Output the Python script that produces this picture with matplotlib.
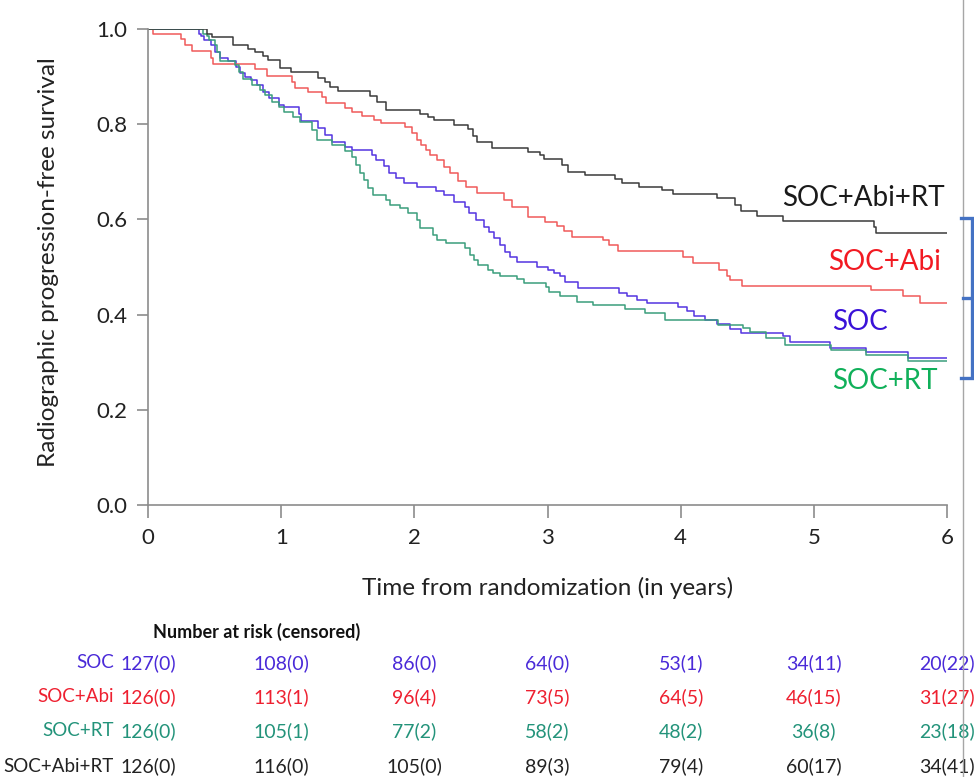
import matplotlib
matplotlib.use('Agg')
import matplotlib.pyplot as plt
from matplotlib.lines import Line2D
from matplotlib.transforms import blended_transform_factory

plt.rcParams['font.family'] = ['Lato', 'DejaVu Sans']

#### curve data (step changes)

soc_t = [0, 0.38, 0.40, 0.42, 0.47, 0.50, 0.54, 0.60, 0.66, 0.69, 0.73, 0.77, 0.82, 0.86, 0.91, 0.98,
         1.02, 1.13, 1.15, 1.28, 1.33, 1.38, 1.48, 1.53, 1.68, 1.71, 1.77, 1.81, 1.86, 1.92, 2.02,
         2.16, 2.22, 2.30, 2.38, 2.41, 2.46, 2.52, 2.56, 2.60, 2.64, 2.68, 2.72, 2.77, 2.92, 3.00,
         3.05, 3.09, 3.13, 3.23, 3.54, 3.60, 3.67, 3.75, 3.98, 4.05, 4.10, 4.18, 4.27, 4.37, 4.45,
         4.77, 4.82, 5.12, 5.39, 5.71, 6.0]
soc_s = [1.0, 0.99, 0.985, 0.977, 0.966, 0.952, 0.938, 0.933, 0.921, 0.907, 0.900, 0.893, 0.882, 0.868, 0.854, 0.840,
         0.837, 0.822, 0.807, 0.791, 0.777, 0.763, 0.753, 0.746, 0.735, 0.725, 0.712, 0.698, 0.686, 0.676, 0.669,
         0.660, 0.651, 0.637, 0.627, 0.613, 0.599, 0.585, 0.574, 0.560, 0.546, 0.532, 0.521, 0.511, 0.501, 0.494,
         0.487, 0.480, 0.469, 0.456, 0.446, 0.438, 0.431, 0.424, 0.415, 0.407, 0.398, 0.389, 0.380, 0.370, 0.362,
         0.354, 0.343, 0.329, 0.322, 0.309, 0.309]

abi_t = [0, 0.04, 0.25, 0.28, 0.33, 0.47, 0.49, 0.80, 0.89, 1.08, 1.10, 1.20, 1.31, 1.34, 1.48, 1.53,
         1.61, 1.70, 1.75, 1.93, 1.98, 2.02, 2.05, 2.09, 2.12, 2.17, 2.22, 2.27, 2.33, 2.39, 2.47,
         2.67, 2.73, 2.85, 2.98, 3.07, 3.12, 3.18, 3.42, 3.46, 3.53, 4.02, 4.09, 4.29, 4.35, 4.37,
         4.46, 5.43, 5.67, 5.80, 6.0]
abi_s = [1.0, 0.99, 0.980, 0.966, 0.954, 0.940, 0.926, 0.915, 0.901, 0.888, 0.875, 0.868, 0.858, 0.845, 0.835, 0.826,
         0.818, 0.809, 0.803, 0.795, 0.781, 0.767, 0.756, 0.745, 0.735, 0.725, 0.711, 0.697, 0.681, 0.668, 0.656,
         0.641, 0.625, 0.606, 0.595, 0.586, 0.576, 0.564, 0.557, 0.546, 0.533, 0.522, 0.508, 0.494, 0.480, 0.473,
         0.461, 0.452, 0.438, 0.424, 0.424]

rt_t = [0, 0.41, 0.44, 0.46, 0.50, 0.52, 0.54, 0.65, 0.68, 0.71, 0.78, 0.84, 0.88, 0.93, 0.98, 1.02,
        1.09, 1.14, 1.23, 1.27, 1.38, 1.48, 1.53, 1.56, 1.59, 1.62, 1.65, 1.69, 1.79, 1.82, 1.89,
        1.95, 2.02, 2.04, 2.14, 2.17, 2.24, 2.38, 2.42, 2.45, 2.48, 2.55, 2.59, 2.64, 2.77, 2.82,
        2.99, 3.01, 3.09, 3.22, 3.34, 3.58, 3.73, 3.88, 4.28, 4.47, 4.52, 4.64, 4.78, 5.13, 5.39,
        5.71, 6.0]
rt_s = [1.0, 0.99, 0.985, 0.977, 0.966, 0.952, 0.933, 0.924, 0.910, 0.895, 0.882, 0.872, 0.861, 0.847, 0.837, 0.826,
        0.816, 0.805, 0.787, 0.767, 0.756, 0.744, 0.732, 0.714, 0.697, 0.683, 0.665, 0.651, 0.641, 0.630, 0.623,
        0.613, 0.599, 0.581, 0.567, 0.557, 0.550, 0.539, 0.525, 0.515, 0.504, 0.494, 0.487, 0.480, 0.474, 0.467,
        0.458, 0.448, 0.438, 0.427, 0.420, 0.411, 0.403, 0.389, 0.378, 0.371, 0.364, 0.350, 0.336, 0.326, 0.315,
        0.302, 0.302]

abirt_t = [0, 0.44, 0.48, 0.64, 0.75, 0.80, 0.86, 0.90, 0.99, 1.07, 1.28, 1.33, 1.37, 1.43, 1.67, 1.72,
           1.79, 2.04, 2.10, 2.15, 2.30, 2.40, 2.44, 2.47, 2.58, 2.85, 2.94, 2.97, 3.11, 3.15, 3.28,
           3.51, 3.56, 3.69, 3.86, 3.94, 4.27, 4.41, 4.45, 4.57, 4.77, 5.45, 5.47, 6.0]
abirt_s = [1.0, 0.99, 0.984, 0.966, 0.958, 0.952, 0.944, 0.935, 0.917, 0.909, 0.897, 0.889, 0.879, 0.870, 0.860, 0.847,
           0.830, 0.822, 0.816, 0.809, 0.798, 0.789, 0.776, 0.763, 0.751, 0.742, 0.735, 0.726, 0.714, 0.700, 0.693,
           0.684, 0.676, 0.668, 0.661, 0.654, 0.645, 0.630, 0.618, 0.607, 0.597, 0.584, 0.571, 0.571]

#### labels / colours

arm_names = ['SOC', 'SOC+Abi', 'SOC+RT', 'SOC+Abi+RT']
line_colors = ['#5434e0', '#f05a5a', '#3a9e7c', '#3a3a3a']
label_colors = ['#3a12d8', '#f21a22', '#10b05a', '#1a1a1a']
table_colors = ['#4a2ad8', '#ee2030', '#23937a', '#222222']

# in-plot labels (x, y in data units)
label_x = [5.35, 5.53, 5.53, 5.37]
label_y = [0.384, 0.511, 0.261, 0.645]

#### number at risk (censored)

risk_times = [0, 1, 2, 3, 4, 5, 6]
risk_soc = ['127(0)', '108(0)', '86(0)', '64(0)', '53(1)', '34(11)', '20(22)']
risk_abi = ['126(0)', '113(1)', '96(4)', '73(5)', '64(5)', '46(15)', '31(27)']
risk_rt = ['126(0)', '105(1)', '77(2)', '58(2)', '48(2)', '36(8)', '23(18)']
risk_abirt = ['126(0)', '116(0)', '105(0)', '89(3)', '79(4)', '60(17)', '34(41)']

curves = [(soc_t, soc_s), (abi_t, abi_s), (rt_t, rt_s), (abirt_t, abirt_s)]
risk_rows = [risk_soc, risk_abi, risk_rt, risk_abirt]

fig = plt.figure(figsize=(9.74, 7.77), dpi=100)
ax = fig.add_axes([0.152, 0.3501, 0.8203, 0.6126])

for (t, s), c in zip(curves, line_colors):
    ax.step(t, s, where='post', color=c, lw=1.1)

for name, x, y, c in zip(arm_names, label_x, label_y, label_colors):
    ax.text(x, y, name, color=c, fontsize=20, ha='center', va='center')

ax.set_xlim(0, 6)
ax.set_ylim(0, 1.0)
ax.set_xticks(range(0, 7))
ax.set_yticks([0, 0.2, 0.4, 0.6, 0.8, 1.0])
ax.set_yticklabels(['0.0', '0.2', '0.4', '0.6', '0.8', '1.0'])
for sp in ['top', 'right']:
    ax.spines[sp].set_visible(False)
for sp in ['left', 'bottom']:
    ax.spines[sp].set_color('#8c8c8c')
    ax.spines[sp].set_linewidth(1.2)
ax.tick_params(axis='y', direction='out', length=8, width=1.2, color='#8c8c8c', pad=7,
               labelsize=16, labelcolor='#222222')
ax.tick_params(axis='x', direction='out', length=9.5, width=1.2, color='#8c8c8c', pad=7,
               labelsize=16, labelcolor='#222222')

ax.set_xlabel('Time from randomization (in years)', fontsize=17.5, color='#222222')
ax.xaxis.set_label_coords(0.5, -0.152)
ax.set_ylabel('Radiographic progression-free survival', fontsize=17.5, color='#222222')
ax.yaxis.set_label_coords(-0.112, 0.51)

#### risk table

trans = blended_transform_factory(ax.transData, fig.transFigure)
row_y = [1 - 663 / 777, 1 - 697 / 777, 1 - 731 / 777, 1 - 766 / 777]
fig.text(153 / 974, 1 - 632 / 777, 'Number at risk (censored)', fontsize=13, fontweight='bold',
         color='#111111', ha='left', va='center')
for name, row, y, c in zip(arm_names, risk_rows, row_y, table_colors):
    fig.text(114 / 974, y, name, color=c, fontsize=13.5, ha='right', va='center')
    for t, v in zip(risk_times, row):
        ax.text(t, y, v, color=c, fontsize=14, ha='center', va='center', transform=trans, clip_on=False)

#### right edge decorations: grey divider + bracket

fig.add_artist(Line2D([963 / 974, 963 / 974], [0, 1], transform=fig.transFigure, color='#a6a6a6', lw=1.0))
bx0, bx1 = 961 / 974, 972 / 974
by0, by1, bym = 1 - 218 / 777, 1 - 378 / 777, 1 - 298 / 777
fig.add_artist(Line2D([bx0, bx1, bx1, bx0], [by0, by0, by1, by1], transform=fig.transFigure,
                      color='#4472c4', lw=2.4, solid_joinstyle='miter'))
fig.add_artist(Line2D([963 / 974, bx1], [bym, bym], transform=fig.transFigure, color='#4472c4', lw=2.4))

fig.savefig('out.png', dpi=100)
